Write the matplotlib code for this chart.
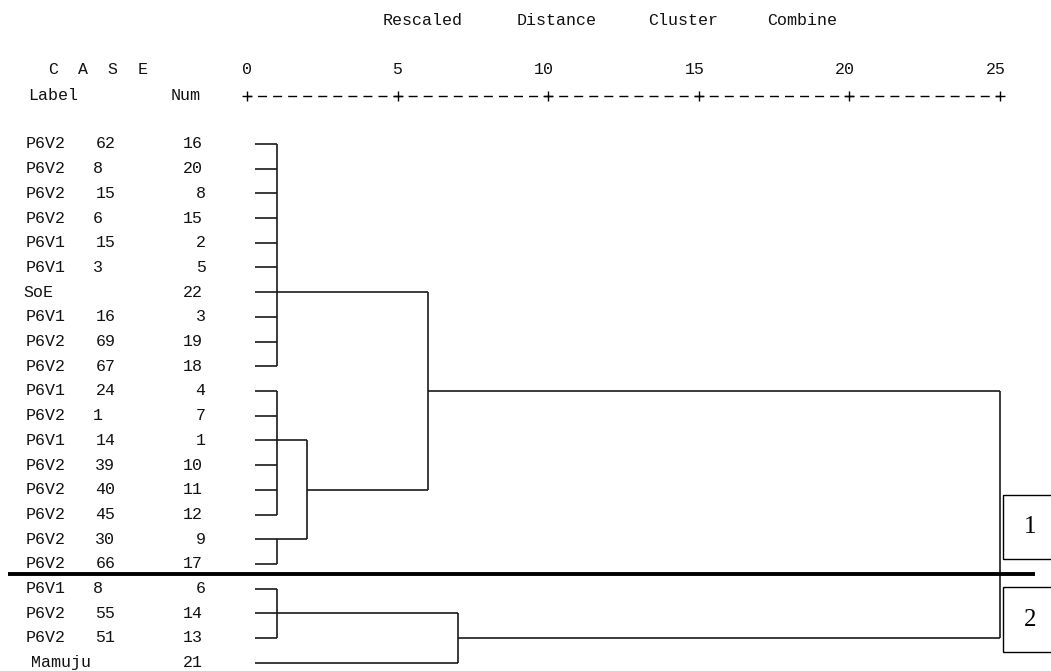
import matplotlib
matplotlib.use('Agg')
import matplotlib.pyplot as plt
from matplotlib.patches import Rectangle

# case labels and numbers, top to bottom as printed
labels = ['P6V2 62', 'P6V2 8', 'P6V2 15', 'P6V2 6', 'P6V1 15', 'P6V1 3', 'SoE',
          'P6V1 16', 'P6V2 69', 'P6V2 67', 'P6V1 24', 'P6V2 1', 'P6V1 14',
          'P6V2 39', 'P6V2 40', 'P6V2 45', 'P6V2 30', 'P6V2 66', 'P6V1 8',
          'P6V2 55', 'P6V2 51', 'Mamuju']
nums = [16, 20, 8, 15, 2, 5, 22, 3, 19, 18, 4, 7, 1, 10, 11, 12, 9, 17, 6, 14, 13, 21]

# clusters: leaf children, sub-cluster children, rescaled distance, row the link leaves from
cl_leaves = [[0, 1, 2, 3, 4, 5, 6, 7, 8, 9], [10, 11, 12, 13, 14, 15], [16, 17],
             [18, 19, 20], [], [], [21], []]
cl_subs = [[], [], [], [], [1, 2], [0, 4], [3], [5, 6]]
cl_dist = [1, 1, 1, 1, 2, 6, 7, 25]
cl_row = [6, 12, 16, 19, 14, 10, 20, None]

ticks = [0, 5, 10, 15, 20, 25]
groups = ['1', '2']

W, H = 1051, 671
X0, XS = 247.0, 30.1     # pixel of distance 0, pixels per unit
Y0, YS = 144.0, 24.7     # pixel of first row, pixels per row
LEAF_X = 0.27
COL = 14.9               # width of one printed character


def dx(px):
    return (px - X0) / XS


def ry(py):
    return (py - Y0) / YS


fig = plt.figure(figsize=(W / 100, H / 100), dpi=100)
ax = fig.add_axes([0, 0, 1, 1])
ax.set_xlim(dx(0), dx(W))
ax.set_ylim(ry(H), ry(0))
ax.axis('off')

mono = 'Liberation Mono'
FS = 12


def spaced(x0, py, s, size=FS):
    # put each word of a fixed-width string in its own character columns
    i = 0
    while i < len(s):
        if s[i] == ' ':
            i += 1
            continue
        j = i
        while j < len(s) and s[j] != ' ':
            j += 1
        cx = x0 + (i + j) / 2 * COL
        ax.text(dx(cx), ry(py), s[i:j], family=mono, fontsize=size,
                ha='center', va='center', color='#111111')
        i = j


# title and header
spaced(363, 21, 'Rescaled Distance Cluster Combine')
spaced(16, 70, '  C A S E')
spaced(16, 96, 'Label')
spaced(208 - 3 * COL, 96, 'Num')
for t in ticks:
    lab = str(t)
    off = 0 if len(lab) == 1 else -4
    ax.text(dx(X0 + t * XS + off), ry(70), lab, family=mono, fontsize=FS,
            ha='center', va='center', color='#111111')

# the +---------+ axis
ya = ry(96)
ax.plot([ticks[0], ticks[-1]], [ya, ya], color='black', lw=1,
        linestyle=(3.24, (6.48, 4.36)))
ax.plot(ticks, [ya] * len(ticks), ls='none', marker='+', ms=7, mew=1, color='black')

# case labels
for r, (lab, n) in enumerate(zip(labels, nums)):
    spaced(16, Y0 + r * YS, lab)
    spaced(208 - 3 * COL, Y0 + r * YS, f'{n:>3}')

# dendrogram links
lc = '#1a1a1a'
lw = 1.2
for k in range(len(cl_dist)):
    d = cl_dist[k]
    rows = []
    for leaf in cl_leaves[k]:
        ax.plot([LEAF_X, d], [leaf, leaf], color=lc, lw=lw, solid_capstyle='butt')
        rows.append(leaf)
    for s in cl_subs[k]:
        ax.plot([cl_dist[s], d], [cl_row[s], cl_row[s]], color=lc, lw=lw,
                solid_capstyle='butt')
        rows.append(cl_row[s])
    if len(rows) > 1:
        ax.plot([d, d], [min(rows), max(rows)], color=lc, lw=lw, solid_capstyle='butt')

# thick separator between the two groups
ax.plot([dx(8), dx(1035)], [ry(574), ry(574)], color='black', lw=2.8,
        solid_capstyle='butt')

# group boxes
for g, (top, bot) in zip(groups, [(495, 559), (587, 652)]):
    ax.add_patch(Rectangle((dx(1003), ry(top)), dx(1060) - dx(1003), ry(bot) - ry(top),
                           fill=False, edgecolor='black', lw=1.0))
    ax.text(dx(1030), ry((top + bot) / 2), g, family='Liberation Serif',
            fontsize=18, ha='center', va='center')

fig.savefig('out.png', dpi=100, facecolor='white')
